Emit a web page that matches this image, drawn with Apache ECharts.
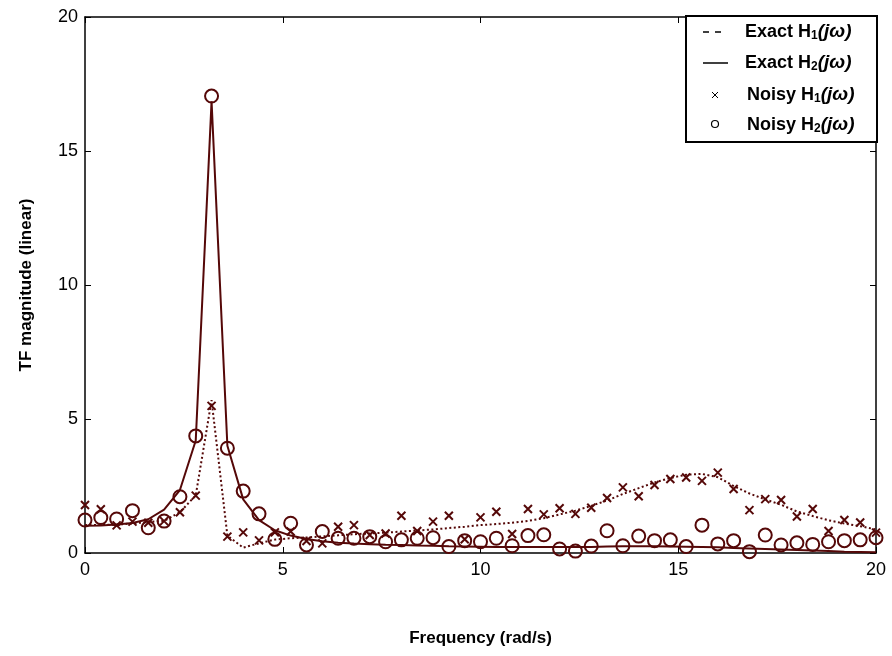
<!DOCTYPE html>
<html>
<head>
<meta charset="utf-8">
<script src="https://cdn.jsdelivr.net/npm/echarts@6/dist/echarts.min.js"></script>
<style>
html,body{margin:0;padding:0;background:#fff;}
#chart{width:892px;height:656px;}
</style>
</head>
<body>
<div id="chart"></div>
<script>
// Frequencies (rad/s)
var freq = [0,0.4,0.8,1.2,1.6,2.0,2.4,2.8,3.2,3.6,4.0,4.4,4.8,5.2,5.6,6.0,6.4,6.8,7.2,7.6,8.0,8.4,8.8,9.2,9.6,10.0,10.4,10.8,11.2,11.6,12.0,12.4,12.8,13.2,13.6,14.0,14.4,14.8,15.2,15.6,16.0,16.4,16.8,17.2,17.6,18.0,18.4,18.8,19.2,19.6,20.0];

// Exact H1 (dotted line)
var exactH1 = [1.04,1.05,1.06,1.10,1.16,1.20,1.52,2.15,5.70,0.65,0.20,0.36,0.50,0.55,0.58,0.62,0.66,0.70,0.73,0.76,0.80,0.84,0.88,0.93,0.98,1.04,1.08,1.13,1.20,1.30,1.44,1.58,1.76,1.96,2.20,2.42,2.63,2.80,2.92,2.95,2.83,2.50,2.22,2.00,1.80,1.55,1.38,1.22,1.10,1.00,0.88];

// Exact H2 (solid line)
var exactH2 = [1.02,1.03,1.06,1.12,1.26,1.62,2.35,4.20,16.85,4.00,2.00,1.23,0.85,0.65,0.52,0.44,0.38,0.35,0.33,0.31,0.30,0.28,0.27,0.25,0.24,0.23,0.22,0.22,0.22,0.22,0.22,0.22,0.22,0.24,0.25,0.25,0.25,0.24,0.23,0.22,0.21,0.19,0.17,0.15,0.13,0.11,0.09,0.07,0.05,0.04,0.03];

// Noisy H1 (crosses)
var noisyH1 = [1.79,1.63,1.03,1.17,1.13,1.19,1.52,2.14,5.49,0.61,0.77,0.47,0.77,0.80,0.45,0.36,0.98,1.04,0.67,0.73,1.39,0.82,1.17,1.39,0.51,1.33,1.54,0.71,1.64,1.44,1.67,1.46,1.69,2.05,2.45,2.12,2.54,2.76,2.82,2.69,3.00,2.39,1.60,2.01,1.98,1.36,1.64,0.82,1.23,1.14,0.76];

// Noisy H2 (circles)
var noisyH2 = [1.23,1.32,1.27,1.58,0.94,1.19,2.10,4.37,17.05,3.91,2.31,1.46,0.51,1.11,0.30,0.80,0.55,0.55,0.61,0.42,0.49,0.55,0.57,0.24,0.46,0.42,0.55,0.27,0.65,0.68,0.15,0.07,0.26,0.83,0.27,0.63,0.46,0.49,0.24,1.04,0.34,0.46,0.05,0.67,0.30,0.38,0.32,0.42,0.46,0.49,0.57];

var axisTicks = [0,5,10,15,20];

function pairs(xs, ys){ return xs.map(function(x,i){ return [x, ys[i]]; }); }

var C = '#550808';
var REG = "'Liberation Sans',Arial,sans-serif";
var crossPath = 'path://M0,0L10,10M10,0L0,10';

var chart = echarts.init(document.getElementById('chart'), null, {renderer:'canvas'});

var axisLine = {show:true, onZero:false, lineStyle:{color:'#000', width:1.5}};
var tick = {show:true, inside:true, length:6, lineStyle:{color:'#000', width:1}};
var label = {color:'#000', fontSize:18, fontFamily:REG};

function legendText(x, y, word, sub){
  return {
    type:'text', x:x, y:y, z:102,
    style:{
      text:'{b|' + word + ' H}{s|' + sub + '}{i|(jω)}',
      verticalAlign:'middle',
      rich:{
        b:{fontSize:18, fontWeight:'bold', fontFamily:REG, fill:'#000', lineHeight:20},
        s:{fontSize:12, fontWeight:'bold', fontFamily:REG, fill:'#000', lineHeight:12, verticalAlign:'bottom'},
        i:{fontSize:19, fontWeight:'bold', fontStyle:'italic', fontFamily:REG, fill:'#000', lineHeight:20}
      }
    }
  };
}

var option = {
  animation:false,
  backgroundColor:'#fff',
  grid:{left:85, right:16, top:17, bottom:103},
  xAxis:[{
    type:'value', min:axisTicks[0], max:axisTicks[axisTicks.length-1], interval:5,
    position:'bottom',
    name:'Frequency (rad/s)', nameLocation:'middle', nameGap:77,
    nameTextStyle:{color:'#000', fontSize:17, fontWeight:'bold', fontFamily:REG},
    axisLine:axisLine, axisTick:tick,
    axisLabel:Object.assign({margin:8}, label),
    splitLine:{show:false}
  },{
    type:'value', min:0, max:20, interval:5, position:'top',
    axisLine:axisLine, axisTick:tick, axisLabel:{show:false}, splitLine:{show:false}
  }],
  yAxis:[{
    type:'value', min:0, max:20, interval:5, position:'left',
    name:'TF magnitude (linear)', nameLocation:'middle', nameGap:50,
    nameTextStyle:{color:'#000', fontSize:17, fontWeight:'bold', fontFamily:REG},
    axisLine:axisLine, axisTick:tick,
    axisLabel:Object.assign({margin:7}, label),
    splitLine:{show:false}
  },{
    type:'value', min:0, max:20, interval:5, position:'right',
    axisLine:axisLine, axisTick:tick, axisLabel:{show:false}, splitLine:{show:false}
  }],
  series:[{
    name:'Exact H1', type:'line', data:pairs(freq, exactH1), showSymbol:false, symbol:'none',
    lineStyle:{color:C, width:2, type:[2,2.5]}, z:2, silent:true
  },{
    name:'Exact H2', type:'line', data:pairs(freq, exactH2), showSymbol:false, symbol:'none',
    lineStyle:{color:C, width:2}, z:2, silent:true
  },{
    name:'Noisy H1', type:'scatter', data:pairs(freq, noisyH1), symbol:crossPath, symbolSize:8,
    itemStyle:{color:'rgba(0,0,0,0)', borderColor:C, borderWidth:2, opacity:1}, z:3, silent:true
  },{
    name:'Noisy H2', type:'scatter', data:pairs(freq, noisyH2), symbol:'circle', symbolSize:13,
    itemStyle:{color:'rgba(0,0,0,0)', borderColor:C, borderWidth:2, opacity:1}, z:3, silent:true
  }],
  graphic:[
    {type:'rect', z:100, shape:{x:686, y:16, width:191, height:126}, style:{fill:'#fff', stroke:'#000', lineWidth:2}},
    {type:'line', z:101, shape:{x1:703, y1:32, x2:727, y2:32}, style:{stroke:'#000', lineWidth:1.5, lineDash:[6,6]}},
    {type:'line', z:101, shape:{x1:703, y1:63, x2:728, y2:63}, style:{stroke:'#000', lineWidth:1.5}},
    {type:'line', z:101, shape:{x1:712, y1:92, x2:718, y2:98}, style:{stroke:'#000', lineWidth:1}},
    {type:'line', z:101, shape:{x1:718, y1:92, x2:712, y2:98}, style:{stroke:'#000', lineWidth:1}},
    {type:'circle', z:101, shape:{cx:715, cy:124, r:3.5}, style:{fill:'none', stroke:'#000', lineWidth:1.2}},
    legendText(745, 32, 'Exact', '1'),
    legendText(745, 63, 'Exact', '2'),
    legendText(747, 95, 'Noisy', '1'),
    legendText(747, 125, 'Noisy', '2')
  ]
};
chart.setOption(option);
</script>
</body>
</html>
